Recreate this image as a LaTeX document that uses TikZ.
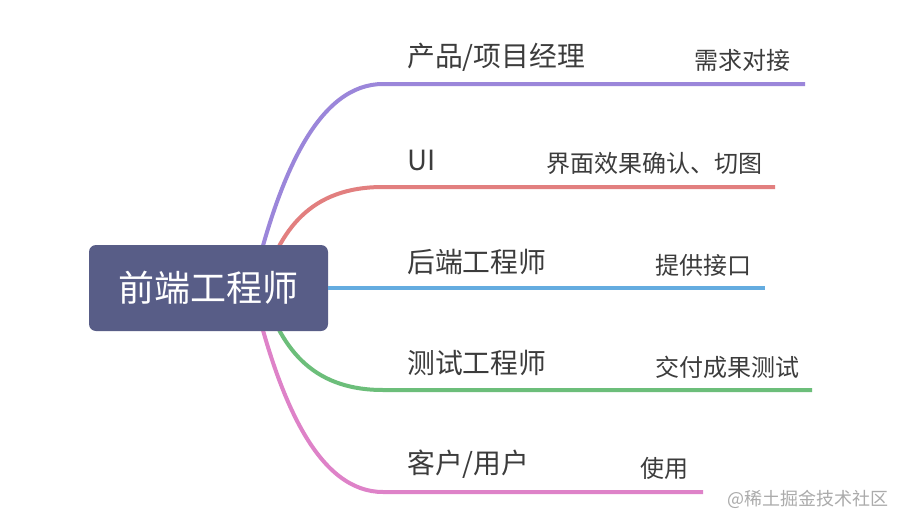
\documentclass[tikz,border=0pt]{standalone}
\usepackage{fontspec}
\setmainfont{Noto Sans CJK SC}
\definecolor{rootfill}{RGB}{88,93,135}
\definecolor{pmcol}{RGB}{155,134,218}
\definecolor{uicol}{RGB}{226,127,127}
\definecolor{becol}{RGB}{100,172,224}
\definecolor{qacol}{RGB}{108,190,122}
\definecolor{usercol}{RGB}{222,130,200}
\definecolor{txt}{RGB}{60,60,60}
\tikzset{
	branch/.style={line width=4pt},
	topic/.style={anchor=west, inner sep=0pt, text=txt, font=\fontsize{27.8}{30}\selectfont},
	task/.style={anchor=west, inner sep=0pt, text=txt, font=\fontsize{24}{28}\selectfont},
}

\begin{document}
\begin{tikzpicture}[x=1pt, y=-1pt]
			%%%%% START %%%%%
			
			\useasboundingbox[fill=white] (0, 0) rectangle (907, 527);
			
			\coordinate (hub) at (252, 288);
			\coordinate (hub2) at (262, 288);
			
			\coordinate (pmKnee) at (383, 84);
			\coordinate (pmEnd) at (805, 84);
			\coordinate (uiKnee) at (383, 187);
			\coordinate (uiEnd) at (775, 187);
			\coordinate (beEnd) at (765, 288);
			\coordinate (qaKnee) at (383, 390);
			\coordinate (qaEnd) at (812, 390);
			\coordinate (userKnee) at (383, 492);
			\coordinate (userEnd) at (703, 492);
			
			\draw[branch, color=pmcol] (hub) .. controls (280, 170) and (320, 84) .. (pmKnee) -- (pmEnd);
			\draw[branch, color=uicol] (hub2) .. controls (280, 230) and (310, 187) .. (uiKnee) -- (uiEnd);
			\draw[branch, color=qacol] (hub2) .. controls (280, 346) and (310, 390) .. (qaKnee) -- (qaEnd);
			\draw[branch, color=usercol] (hub) .. controls (280, 406) and (320, 492) .. (userKnee) -- (userEnd);
			
			\node[fill=rootfill, rounded corners=7pt, minimum width=239pt, minimum height=86pt, text=white, font=\fontsize{36}{40}\selectfont] (fe) at (208.5, 288) {前端工程师};
			
			\draw[branch, color=becol] (fe.east) -- (beEnd);
			
			\node[topic] (pm) at (407, 57) {产品/项目经理};
			\node[topic] (ui) at (407, 160) {UI};
			\node[topic] (be) at (407, 262) {后端工程师};
			\node[topic] (qa) at (407, 363) {测试工程师};
			\node[topic] (user) at (407, 464) {客户/用户};
			
			\node[task] (pmTask) at (694, 60) {需求对接};
			\node[task] (uiTask) at (546, 163) {界面效果确认、切图};
			\node[task] (beTask) at (655, 265) {提供接口};
			\node[task] (qaTask) at (655, 367) {交付成果测试};
			\node[task] (userTask) at (640, 468) {使用};
			
			\node[anchor=west, inner sep=0pt, text=black!33, font=\fontsize{18}{20}\selectfont] (mark) at (727, 499) {@稀土掘金技术社区};
			
			%%%%% END %%%%%
		\end{tikzpicture}
\end{document}
